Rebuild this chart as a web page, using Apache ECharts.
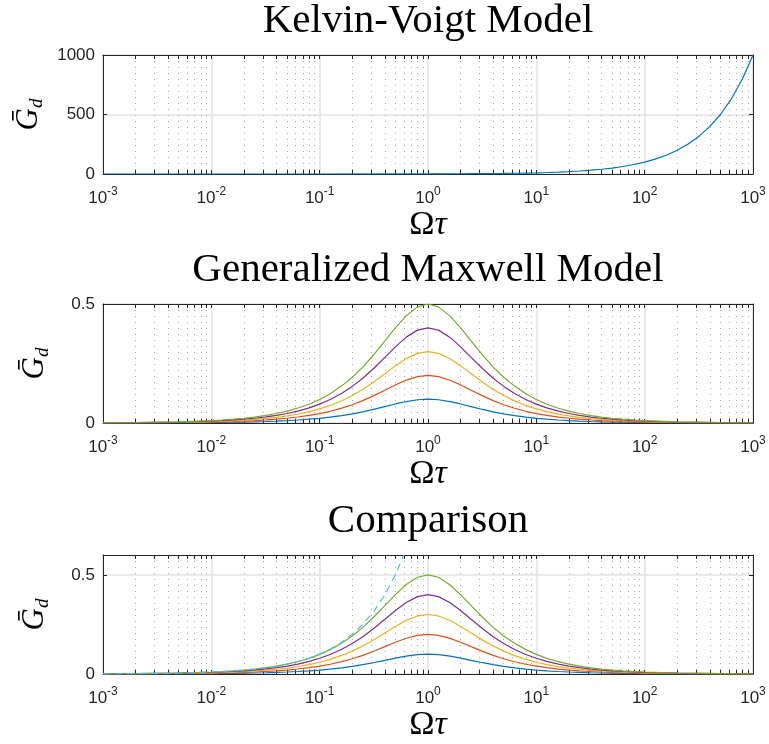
<!DOCTYPE html>
<html>
<head>
<meta charset="utf-8">
<title>Loss modulus vs Ωτ</title>
<script src="https://cdn.jsdelivr.net/npm/echarts@6/dist/echarts.min.js"></script>
<style>
  html, body { margin: 0; padding: 0; background: #ffffff; }
  #chart { width: 769px; height: 744px; }
</style>
</head>
<body>
<div id="chart"></div>
<script>
// Dimensionless loss modulus Ḡd against Ωτ for three viscoelastic models.

// Frequency samples shared by the Maxwell branches
const omegaTau = [0.001, 0.002, 0.005,
  0.01, 0.0125, 0.016, 0.02, 0.025, 0.032, 0.04, 0.05, 0.063, 0.08,
  0.1, 0.125, 0.16, 0.2, 0.25, 0.32, 0.4, 0.5, 0.63, 0.8,
  1, 1.25, 1.6, 2, 2.5, 3.2, 4, 5, 6.3, 8,
  10, 12.5, 16, 20, 25, 32, 40, 50, 63, 80,
  100, 200, 500, 1000];

// Generalized Maxwell branches (one per relaxation strength)
const gmBlue = [0.0002, 0.0004, 0.001,
  0.002, 0.0025, 0.0032, 0.004, 0.005, 0.0064, 0.008, 0.010, 0.0126, 0.0159,
  0.0198, 0.0246, 0.0312, 0.0385, 0.0471, 0.0581, 0.0690, 0.080, 0.0902, 0.0976,
  0.100, 0.0976, 0.0899, 0.080, 0.0690, 0.0569, 0.0471, 0.0385, 0.0310, 0.0246,
  0.0198, 0.0159, 0.0125, 0.0100, 0.0080, 0.0062, 0.0050, 0.0040, 0.0032, 0.0025,
  0.002, 0.001, 0.0004, 0.0002];
const gmOrange = [0.0004, 0.0008, 0.002,
  0.004, 0.005, 0.0064, 0.008, 0.010, 0.0128, 0.016, 0.020, 0.0251, 0.0318,
  0.0396, 0.0492, 0.0624, 0.0769, 0.0941, 0.1161, 0.1379, 0.160, 0.1804, 0.1951,
  0.200, 0.1951, 0.1798, 0.160, 0.1379, 0.1139, 0.0941, 0.0769, 0.0619, 0.0492,
  0.0396, 0.0318, 0.0249, 0.0200, 0.0160, 0.0125, 0.0100, 0.0080, 0.0063, 0.0050,
  0.004, 0.002, 0.0008, 0.0004];
const gmYellow = [0.0006, 0.0012, 0.003,
  0.006, 0.0075, 0.0096, 0.012, 0.015, 0.0192, 0.0240, 0.0299, 0.0377, 0.0477,
  0.0594, 0.0738, 0.0936, 0.1154, 0.1412, 0.1742, 0.2069, 0.240, 0.2706, 0.2927,
  0.300, 0.2927, 0.2697, 0.240, 0.2069, 0.1708, 0.1412, 0.1154, 0.0929, 0.0738,
  0.0594, 0.0477, 0.0374, 0.0299, 0.0240, 0.0187, 0.0150, 0.0120, 0.0095, 0.0075,
  0.006, 0.003, 0.0012, 0.0006];
const gmPurple = [0.0008, 0.0016, 0.004,
  0.008, 0.010, 0.0128, 0.016, 0.020, 0.0256, 0.0320, 0.0399, 0.0502, 0.0636,
  0.0792, 0.0985, 0.1248, 0.1538, 0.1882, 0.2322, 0.2759, 0.320, 0.3608, 0.3902,
  0.400, 0.3902, 0.3596, 0.320, 0.2759, 0.2278, 0.1882, 0.1538, 0.1239, 0.0985,
  0.0792, 0.0636, 0.0498, 0.0399, 0.0320, 0.0250, 0.0200, 0.0160, 0.0127, 0.0100,
  0.008, 0.004, 0.0016, 0.0008];
const gmGreen = [0.001, 0.002, 0.005,
  0.010, 0.0125, 0.016, 0.020, 0.025, 0.032, 0.040, 0.050, 0.063, 0.079,
  0.099, 0.123, 0.156, 0.192, 0.235, 0.290, 0.345, 0.400, 0.451, 0.488,
  0.500, 0.488, 0.449, 0.400, 0.345, 0.285, 0.235, 0.192, 0.155, 0.123,
  0.099, 0.079, 0.062, 0.050, 0.040, 0.031, 0.025, 0.020, 0.016, 0.0125,
  0.010, 0.005, 0.002, 0.001];

// Kelvin-Voigt model over the full range
const kvOmega = [0.001, 0.01, 0.1,
  1, 1.25, 1.6, 2, 2.5, 3.2, 4, 5, 6.3, 8,
  10, 12.5, 16, 20, 25, 32, 40, 50, 63, 80,
  100, 125, 160, 200, 250, 320, 400, 500, 630, 800, 1000];
const kvG = [0.001, 0.01, 0.1,
  1, 1.25, 1.6, 2, 2.5, 3.2, 4, 5, 6.3, 8,
  10, 12.5, 16, 20, 25, 32, 40, 50, 63, 80,
  100, 125, 160, 200, 250, 320, 400, 500, 630, 800, 1000];

// Kelvin-Voigt model at low frequency (comparison panel)
const kvLowOmega = [0.001, 0.002, 0.005,
  0.01, 0.0125, 0.016, 0.02, 0.025, 0.032, 0.04, 0.05, 0.063, 0.08,
  0.1, 0.125, 0.16, 0.2, 0.25, 0.32, 0.4, 0.5, 0.63, 0.8];
const kvLowG = [0.001, 0.002, 0.005,
  0.01, 0.0125, 0.016, 0.02, 0.025, 0.032, 0.04, 0.05, 0.063, 0.08,
  0.1, 0.125, 0.16, 0.2, 0.25, 0.32, 0.4, 0.5, 0.63, 0.8];

// Axis ticks
const decadeTicks = [0.001, 0.01, 0.1, 1, 10, 100, 1000];
const yTicks = [[0, 500, 1000], [0, 0.5], [0, 0.5]];
const yMax = [1000, 0.5, 0.6];
const panelTitles = ['Kelvin-Voigt Model', 'Generalized Maxwell Model', 'Comparison'];

const gmColors = ['#0072BD', '#D95319', '#EDB120', '#7E2F8E', '#77AC30'];
const kvDashColor = '#4DBEEE';
const axisColor = '#262626';

// minor log ticks 2..9 inside each decade
const minorTicks = [];
for (let d = 0; d < decadeTicks.length - 1; d++) {
  for (let m = 2; m <= 9; m++) minorTicks.push(+(m * decadeTicks[d]).toPrecision(3));
}
const allTicks = decadeTicks.concat(minorTicks).sort((a, b) => a - b);

const gridTops = [55, 304, 555];
const gridHeight = 119;

const serif = 'Liberation Serif';
const sans = 'Liberation Sans';

const grids = [], xAxes = [], yAxes = [], series = [], graphics = [];

gridTops.forEach((top, g) => {
  grids.push({ left: 103, right: 16, top: top, height: gridHeight, containLabel: false, outerBoundsMode: 'none' });

  const logBase = { gridIndex: g, type: 'log', logBase: 10, min: 0.001, max: 1000 };
  // main bottom axis: box edge, ticks, decade labels
  xAxes.push(Object.assign({}, logBase, {
    position: 'bottom',
    axisLine: { show: true, onZero: false, lineStyle: { color: axisColor, width: 1 } },
    axisTick: { show: true, inside: true, length: 4, customValues: allTicks, lineStyle: { color: axisColor, width: 1 } },
    axisLabel: {
      show: true, customValues: decadeTicks, margin: 12,
      formatter: v => '{b|10}{s|' + Math.round(Math.log10(v)) + '}',
      rich: {
        b: { fontFamily: sans, fontSize: 17, color: axisColor, lineHeight: 24 },
        s: { fontFamily: sans, fontSize: 12, color: axisColor, lineHeight: 11, verticalAlign: 'top' }
      }
    },
    splitLine: { show: false },
    name: '{o|Ω}{t|τ}', nameLocation: 'middle', nameGap: 34,
    nameTextStyle: {
      rich: {
        o: { fontFamily: serif, fontSize: 34, color: '#000' },
        t: { fontFamily: serif, fontSize: 34, fontStyle: 'italic', color: '#000' }
      }
    }
  }));
  // top box edge with ticks
  xAxes.push(Object.assign({}, logBase, {
    position: 'top',
    axisLine: { show: true, onZero: false, lineStyle: { color: axisColor, width: 1 } },
    axisTick: { show: true, inside: true, length: 4, customValues: allTicks, lineStyle: { color: axisColor, width: 1 } },
    axisLabel: { show: false },
    splitLine: { show: false }
  }));
  // dotted minor grid
  xAxes.push(Object.assign({}, logBase, {
    position: 'bottom',
    axisLine: { show: false },
    axisTick: { show: false, customValues: minorTicks },
    axisLabel: { show: false },
    splitLine: { show: true, lineStyle: { color: '#a9a9a9', width: 1, type: [1, 5] } }
  }));
  // solid major grid
  xAxes.push(Object.assign({}, logBase, {
    position: 'bottom',
    axisLine: { show: false },
    axisTick: { show: false, customValues: decadeTicks },
    axisLabel: { show: false },
    splitLine: { show: true, lineStyle: { color: '#e3e3e3', width: 1.5 } }
  }));

  const yBase = { gridIndex: g, type: 'value', min: 0, max: yMax[g] };
  yAxes.push(Object.assign({}, yBase, {
    position: 'left',
    axisLine: { show: true, onZero: false, lineStyle: { color: axisColor, width: 1 } },
    axisTick: { show: true, inside: true, length: 4, customValues: yTicks[g], lineStyle: { color: axisColor } },
    axisLabel: {
      show: true, customValues: yTicks[g], margin: 8, fontFamily: sans, fontSize: 17, color: axisColor,
      formatter: v => String(v)
    },
    splitLine: { show: true, lineStyle: { color: '#e3e3e3', width: 1.5 } },
    name: '{g|Ḡ}{d|d}', nameLocation: 'middle', nameRotate: 90, nameGap: 51,
    nameTextStyle: {
      rich: {
        g: { fontFamily: serif, fontSize: 31, fontStyle: 'italic', color: '#000', lineHeight: 34 },
        d: { fontFamily: serif, fontSize: 19, fontStyle: 'italic', color: '#000', lineHeight: 20, verticalAlign: 'bottom' }
      }
    }
  }));
  yAxes.push(Object.assign({}, yBase, {
    position: 'right',
    axisLine: { show: true, onZero: false, lineStyle: { color: axisColor, width: 1 } },
    axisTick: { show: true, inside: true, length: 4, customValues: yTicks[g], lineStyle: { color: axisColor } },
    axisLabel: { show: false },
    splitLine: { show: false }
  }));

  graphics.push({
    type: 'text', x: 428, y: top - 34,
    style: { text: panelTitles[g], font: '41px "' + serif + '"', fill: '#000', textAlign: 'center', textVerticalAlign: 'middle' }
  });
});

function pairs(xs, ys) { return xs.map((x, i) => [x, ys[i]]); }

function lineSeries(g, xs, ys, color, dashed) {
  return {
    type: 'line', xAxisIndex: g * 4, yAxisIndex: g * 2,
    data: pairs(xs, ys), showSymbol: false, symbol: 'none',
    smooth: false, clip: true, silent: true,
    lineStyle: { color: color, width: 1.2, type: dashed ? [7, 5] : 'solid' },
    z: 3
  };
}

// Kelvin-Voigt panel
series.push(lineSeries(0, kvOmega, kvG, gmColors[0], false));
// Maxwell and comparison panels
const gmSets = [gmBlue, gmOrange, gmYellow, gmPurple, gmGreen];
[1, 2].forEach(g => {
  gmSets.forEach((set, i) => series.push(lineSeries(g, omegaTau, set, gmColors[i], false)));
});
series.push(lineSeries(2, kvLowOmega, kvLowG, kvDashColor, true));

const chart = echarts.init(document.getElementById('chart'), null, { renderer: 'canvas' });
chart.setOption({
  backgroundColor: '#ffffff',
  animation: false,
  grid: grids,
  xAxis: xAxes,
  yAxis: yAxes,
  series: series,
  graphic: graphics
});
</script>
</body>
</html>
